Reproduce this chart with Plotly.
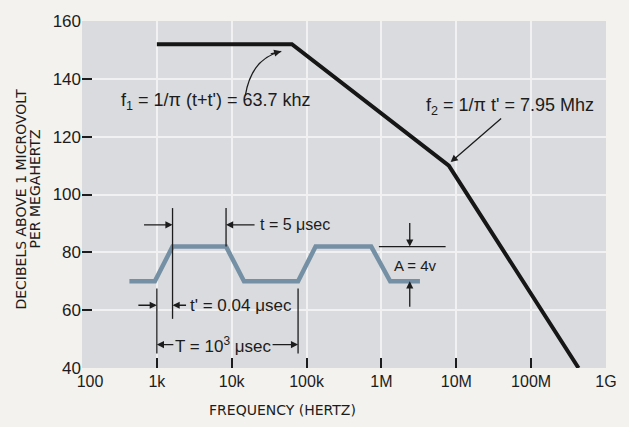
import math
import plotly.graph_objects as go

# spectrum envelope of the pulse train (Hz, dB above 1 uV/MHz)
env_freq = [1e3, 63.7e3, 7.95e6, 4.3e8]
env_db = [152, 152, 110, 40]

# trapezoid pulse sketch drawn on the same axes
wave_freq = [430, 940, 1620, 8400, 14.6e3, 77e3, 132e3, 730e3, 1.31e6, 3.27e6]
wave_db = [70, 70, 82, 82, 70, 70, 82, 82, 70, 70]

x_tickvals = [1e2, 1e3, 1e4, 1e5, 1e6, 1e7, 1e8, 1e9]
x_ticktext = ["\u2003100", "1k", "10k", "100k", "1M", "10M", "100M", "1G"]
y_tickvals = [40, 60, 80, 100, 120, 140, 160]

INK = "#1c1c1c"
FONT = "Liberation Sans, Arial, sans-serif"
WIDE = "DejaVu Sans, sans-serif"

fig = go.Figure()

fig.add_trace(go.Scatter(x=env_freq, y=env_db, mode="lines",
                         line=dict(color="#161616", width=4)))
fig.add_trace(go.Scatter(x=wave_freq, y=wave_db, mode="lines",
                         line=dict(color="#7590a5", width=4.5)))


def lg(v):
    return math.log10(v)


def arrow(x, y, ax, ay):
    # x in Hz, head at (x, y); tail offset in pixels
    fig.add_annotation(x=lg(x), y=y, ax=ax, ay=ay, text="", showarrow=True,
                       arrowhead=2, arrowsize=1.1, arrowwidth=1.3, arrowcolor=INK)


def label(x, y, text, anchor="center", size=15):
    fig.add_annotation(x=lg(x), y=y, text=text, showarrow=False, xanchor=anchor,
                       font=dict(family=FONT, size=size, color=INK))


def vline(x, y0, y1):
    fig.add_shape(type="line", x0=x, x1=x, y0=y0, y1=y1,
                  line=dict(color=INK, width=1.3))


# f1 label with curved pointer
label(6.07e3, 132, "f<sub>1</sub> = 1/π (t+t') = 63.7 khz", size=18)
fig.add_shape(type="path", path="M 15200,134.2 Q 18300,147.1 45900,149.5",
              line=dict(color=INK, width=1.3))
arrow(45900, 149.5, -12, 3)

# f2 label with straight pointer
label(5.28e7, 130.3, "f<sub>2</sub> = 1/π t' = 7.95 Mhz", size=18)
arrow(8.4e6, 111.2, 52, -45)

# t = 5 usec
vline(wave_freq[2], 57, 95.3)
vline(wave_freq[3], 82, 95.3)
arrow(wave_freq[2], 89.5, -30, 0)
arrow(wave_freq[3], 89.5, 30, 0)
label(22.7e3, 89.5, "t = 5 μsec", "left", 16)

# t' = 0.04 usec
vline(1e3, 45, 67.5)
vline(wave_freq[5], 45, 67.5)
arrow(1e3, 61.7, -20, 0)
arrow(wave_freq[2], 61.7, 15, 0)
label(2.58e3, 61.7, "t' = 0.04 μsec", "left", 17)

# T = 10^3 usec
arrow(1e3, 48.1, 18, 0)
arrow(wave_freq[5], 48.1, -27, 0)
label(7.76e3, 48.1, "T = 10<sup>3</sup> μsec", "center", 17)

# A = 4 v
fig.add_shape(type="line", x0=9.25e5, x1=7.2e6, y0=82, y1=82,
              line=dict(color=INK, width=1.3))
arrow(2.39e6, 82, 0, -25)
arrow(2.39e6, 70, 0, 27)
label(2.87e6, 75.6, "A = 4v", "center", 15)

# axis titles
fig.add_annotation(x=-0.116, y=0.486, xref="paper", yref="paper", showarrow=False,
                   xanchor="center", yanchor="middle",
                   text="DECIBELS ABOVE 1 MICROVOLT", textangle=-90,
                   font=dict(family=WIDE, size=14, color=INK))
fig.add_annotation(x=-0.090, y=0.517, xref="paper", yref="paper", showarrow=False,
                   xanchor="center", yanchor="middle",
                   text="PER MEGAHERTZ", textangle=-90,
                   font=dict(family=WIDE, size=14, color=INK))
fig.add_annotation(x=0.382, y=-0.121, xref="paper", yref="paper", showarrow=False,
                   xanchor="center", yanchor="middle",
                   text="FREQUENCY (HERTZ)",
                   font=dict(family=WIDE, size=14, color=INK))

fig.update_xaxes(type="log", range=[2, 9], tickvals=x_tickvals, ticktext=x_ticktext,
                 ticks="inside", ticklen=10, tickwidth=2, tickcolor=INK,
                 ticklabelstandoff=2,
                 showgrid=True, gridcolor="#f1f1f1", gridwidth=1.5,
                 showline=False, zeroline=False,
                 tickfont=dict(family=FONT, size=16, color=INK))
fig.update_yaxes(range=[40, 160], tickvals=y_tickvals,
                 ticks="inside", ticklen=10, tickwidth=2, tickcolor=INK,
                 showgrid=True, gridcolor="#f1f1f1", gridwidth=1.5,
                 showline=False, zeroline=False,
                 tickfont=dict(family=FONT, size=17, color=INK))

fig.update_layout(width=629, height=427, autosize=False, showlegend=False,
                  margin=dict(l=82, r=21, t=14, b=59),
                  paper_bgcolor="#f3f2ee", plot_bgcolor="#d9dbde")

fig.write_html("out.html", config={"displayModeBar": False},
               post_script="document.body.style.margin='0';"
                           "document.body.style.background='#f3f2ee';")
